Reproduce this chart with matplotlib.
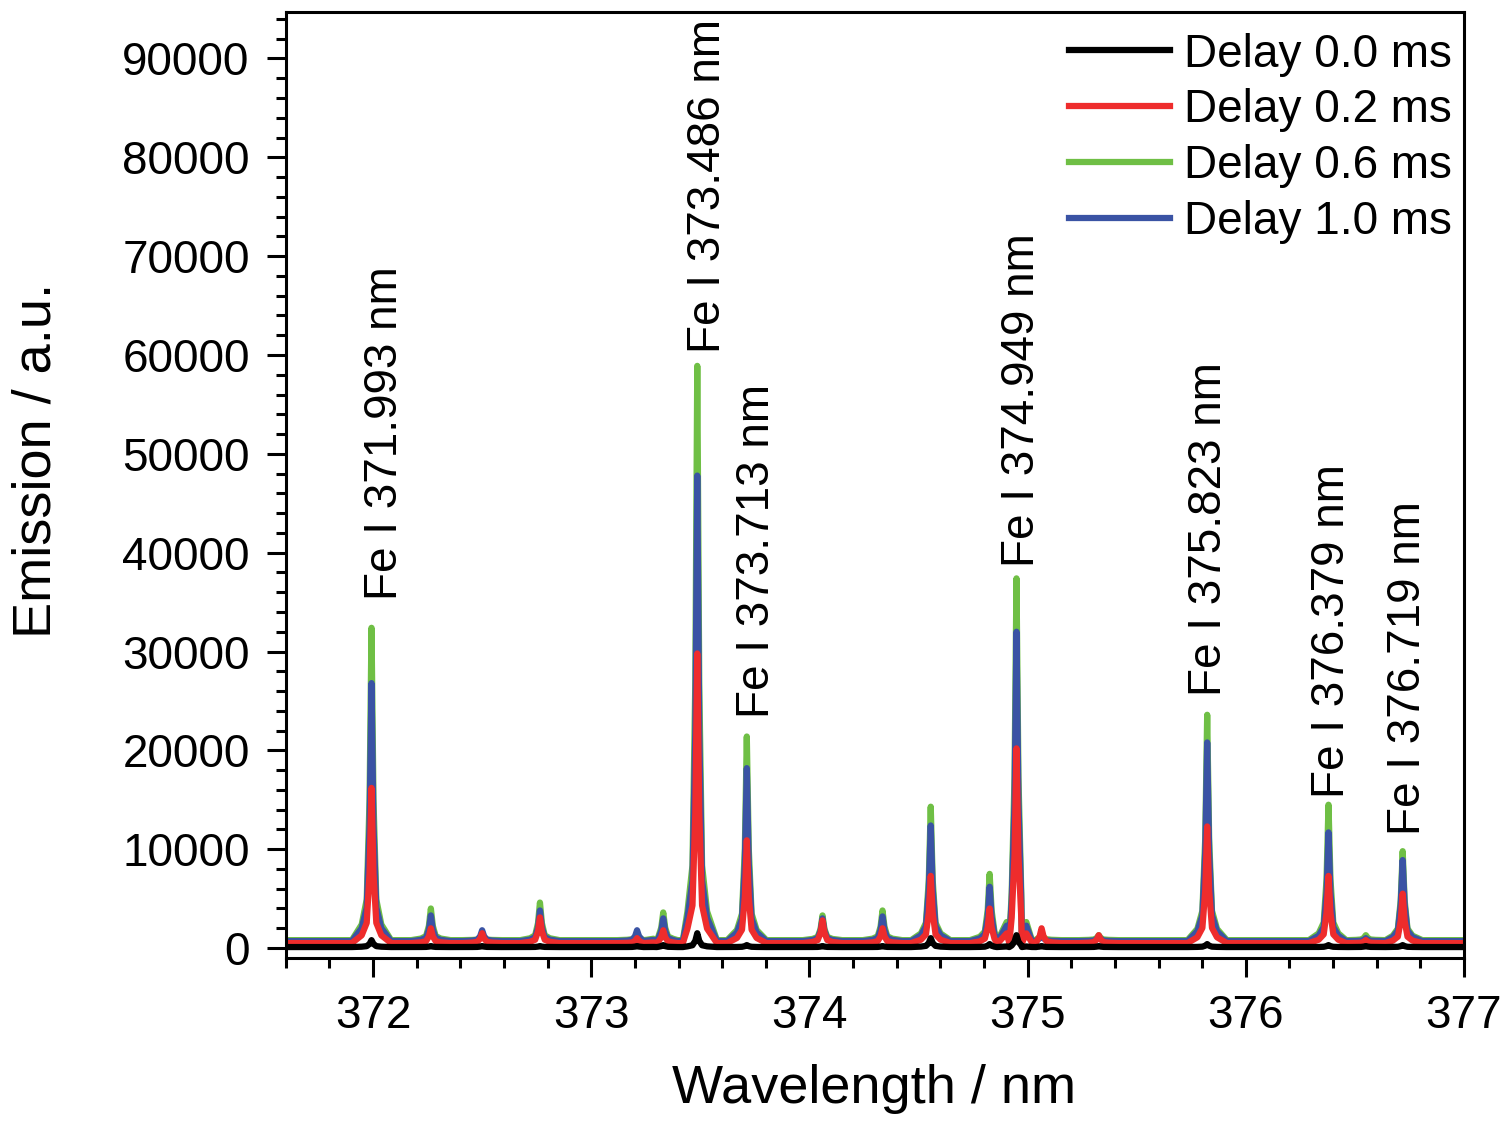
import numpy as np
import matplotlib
matplotlib.use('Agg')
import matplotlib.pyplot as plt
from matplotlib.ticker import MultipleLocator

plt.rcParams['font.family'] = ['Liberation Sans', 'DejaVu Sans']

# peak positions (nm) and peak heights
peak_nm = [371.993, 372.265, 372.50, 372.765, 373.21, 373.33, 373.486, 373.713,
           374.06, 374.335, 374.556, 374.826, 374.949, 375.064, 375.326,
           375.823, 376.379, 376.55, 376.719]

green_peaks = [32400, 4000, 1200, 4600, 1500, 3600, 58900, 21400, 3300, 3800,
               14300, 7500, 37400, 1500, 1300, 23600, 14500, 1300, 9800]
blue_peaks = [26800, 3300, 1800, 3800, 1800, 3000, 47800, 18200, 3000, 3200,
              12400, 6200, 32000, 1300, 1200, 20800, 11700, 1000, 8900]
red_peaks = [16200, 2000, 1500, 3100, 1000, 1800, 29800, 10900, 2800, 2000,
             7300, 4000, 20200, 2000, 1300, 12300, 7300, 800, 5500]
black_peaks = [800, 200, 200, 200, 200, 300, 1500, 300, 200, 200,
               1000, 400, 1300, 200, 200, 400, 300, 200, 300]

# baseline level of each series
baselines = {'green': 800, 'blue': 700, 'red': 500, 'black': 100}

# labelled lines
line_labels = ['Fe I 371.993 nm', 'Fe I 373.486 nm', 'Fe I 373.713 nm',
               'Fe I 374.949 nm', 'Fe I 375.823 nm', 'Fe I 376.379 nm',
               'Fe I 376.719 nm']
label_x = [372.053, 373.535, 373.758, 374.972, 375.833, 376.393, 376.743]
label_y = [35200, 60200, 23300, 38600, 25500, 15200, 11400]

# narrow line profile used to draw each peak (offset nm, fraction of height)
prof_dx = [-0.09, -0.045, -0.022, -0.009, 0.0, 0.009, 0.022, 0.045, 0.09]
prof_f = [0.0, 0.05, 0.13, 0.45, 1.0, 0.45, 0.13, 0.05, 0.0]

xmin, xmax = 371.6, 377.0


def spectrum(heights, base):
    pts = [(xmin, base), (xmax, base)]
    for c, h in zip(peak_nm, heights):
        for dx, f in zip(prof_dx, prof_f):
            pts.append((c + dx, base + f * (h - base)))
    pts.sort()
    x = np.array([p[0] for p in pts])
    y = np.array([p[1] for p in pts])
    return x, y


fig = plt.figure(figsize=(15.04, 11.23), dpi=100)
ax = fig.add_axes([0.190, 0.147, 0.7834, 0.8423])

series = [
    ('green', green_peaks, '#6fbf45', 'Delay 0.6 ms'),
    ('blue', blue_peaks, '#3a53a4', 'Delay 1.0 ms'),
    ('red', red_peaks, '#ee2c2c', 'Delay 0.2 ms'),
    ('black', black_peaks, '#000000', 'Delay 0.0 ms'),
]
handles = {}
for key, hs, col, lab in series:
    x, y = spectrum(hs, baselines[key])
    ln, = ax.plot(x, y, color=col, lw=4.5, label=lab, solid_joinstyle='round')
    handles[lab] = ln

for t, lx, ly in zip(line_labels, label_x, label_y):
    ax.text(lx, ly, t, rotation=90, ha='center', va='bottom', fontsize=33)

ax.set_xlim(xmin, xmax)
ax.set_ylim(-1000, 94700)
ax.xaxis.set_major_locator(MultipleLocator(1))
ax.xaxis.set_minor_locator(MultipleLocator(0.2))
ax.yaxis.set_major_locator(MultipleLocator(10000))
ax.yaxis.set_minor_locator(MultipleLocator(2000))
ax.tick_params(which='both', direction='out', width=2.2, labelsize=33, pad=12)
ax.tick_params(which='major', length=14)
ax.tick_params(which='minor', length=7)
for sp in ax.spines.values():
    sp.set_linewidth(2.2)

ax.set_xlabel('Wavelength / nm', fontsize=39)
ax.set_ylabel('Emission / a.u.', fontsize=39)
ax.xaxis.set_label_coords(0.499, -0.112)
ax.yaxis.set_label_coords(-0.19, 0.526)

order = ['Delay 0.0 ms', 'Delay 0.2 ms', 'Delay 0.6 ms', 'Delay 1.0 ms']
ax.legend([handles[o] for o in order], order, loc='upper right', frameon=False,
          fontsize=33, handlelength=2.2, handletextpad=0.3, labelspacing=0.26,
          borderaxespad=0, borderpad=0.2, bbox_to_anchor=(0.9975, 0.988))

plt.savefig('out.png', dpi=100)
